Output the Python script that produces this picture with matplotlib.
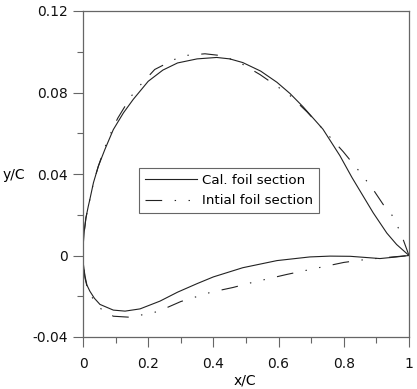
import matplotlib
matplotlib.use("Agg")
import matplotlib.pyplot as plt

plt.rcParams['lines.scale_dashes'] = False
plt.rcParams['font.family'] = ['DejaVu Sans']

# Calculated foil section (from leading edge to trailing edge)
cal_upper_x = [0, 0.001, 0.004, 0.009, 0.016, 0.021, 0.032, 0.047, 0.067, 0.093, 0.124, 0.154,
               0.2, 0.245, 0.29, 0.35, 0.41, 0.45, 0.49, 0.545, 0.595, 0.635, 0.675, 0.736,
               0.788, 0.825, 0.89, 0.932, 0.962, 1.0]
cal_upper_y = [0, 0.006, 0.012, 0.0185, 0.024, 0.0275, 0.0357, 0.0438, 0.052, 0.0618, 0.070, 0.0766,
               0.0855, 0.0910, 0.0945, 0.0965, 0.0972, 0.0965, 0.0947, 0.0905, 0.085, 0.0795, 0.073, 0.062,
               0.049, 0.0383, 0.021, 0.011, 0.0054, 0]
cal_lower_x = [0, 0.001, 0.006, 0.012, 0.021, 0.035, 0.052, 0.093, 0.129, 0.175, 0.236, 0.29,
               0.35, 0.40, 0.49, 0.595, 0.696, 0.758, 0.82, 0.87, 0.911, 0.962, 1.0]
cal_lower_y = [0, -0.004, -0.010, -0.0145, -0.0175, -0.021, -0.024, -0.0268, -0.0273, -0.0262, -0.0224, -0.018,
               -0.0138, -0.0105, -0.006, -0.0025, -0.0007, -0.0003, -0.0004, -0.001, -0.0015, -0.0007, 0]

# Initial foil section
ini_upper_x = [0, 0.001, 0.004, 0.009, 0.021, 0.032, 0.047, 0.067, 0.093, 0.107, 0.147, 0.175, 0.22,
               0.28, 0.316, 0.374, 0.43, 0.488, 0.543, 0.6, 0.635, 0.687, 0.733, 0.798, 0.844,
               0.89, 0.921, 0.947, 0.967, 0.982, 1.0]
ini_upper_y = [0, 0.006, 0.012, 0.0185, 0.0275, 0.0357, 0.0438, 0.053, 0.063, 0.0675, 0.078, 0.0835, 0.0913,
               0.0962, 0.0982, 0.099, 0.098, 0.094, 0.0888, 0.0825, 0.0785, 0.0705, 0.0625, 0.051, 0.042,
               0.0324, 0.025, 0.020, 0.0136, 0.0079, 0]
ini_lower_x = [0, 0.001, 0.006, 0.015, 0.032, 0.057, 0.093, 0.144, 0.185, 0.23, 0.3, 0.393, 0.46, 0.52,
               0.625, 0.696, 0.8, 0.865, 0.93, 1.0]
ini_lower_y = [0, -0.004, -0.011, -0.017, -0.0216, -0.0265, -0.0298, -0.0303, -0.029, -0.0275, -0.0226, -0.018,
               -0.0157, -0.0132, -0.0093, -0.0069, -0.0034, -0.002, -0.001, 0]

xticks = [0, 0.2, 0.4, 0.6, 0.8, 1.0]
xticklabels = ["0", "0.2", "0.4", "0.6", "0.8", "1"]
yticks = [-0.04, 0, 0.04, 0.08, 0.12]
yticklabels = ["-0.04", "0", "0.04", "0.08", "0.12"]

fig = plt.figure(figsize=(4.17, 3.89), dpi=100)
ax = fig.add_axes([83/417, 52/389, 326/417, 326/389])

lc = '#222222'
cal_x = cal_upper_x[::-1] + cal_lower_x[1:]
cal_y = cal_upper_y[::-1] + cal_lower_y[1:]
ini_x = ini_upper_x[::-1] + ini_lower_x[1:]
ini_y = ini_upper_y[::-1] + ini_lower_y[1:]

ax.plot(cal_x, cal_y, color=lc, lw=0.8, label='Cal. foil section')
ax.plot(ini_x, ini_y, color=lc, lw=0.8, linestyle=(0, (12, 9, 1, 9, 1, 9)),
        label='Intial foil section')

ax.set_xlim(0, 1)
ax.set_ylim(-0.04, 0.12)
ax.set_xticks(xticks)
ax.set_xticklabels(xticklabels)
ax.set_yticks(yticks)
ax.set_yticklabels(yticklabels)
ax.set_xticks([0.1, 0.3, 0.5, 0.7, 0.9], minor=True)
ax.set_yticks([-0.02, 0.02, 0.06, 0.10], minor=True)
sc = '#666666'
ax.tick_params(which='major', direction='out', length=7.2, width=0.8, color=sc,
               labelsize=10, labelcolor='#111111')
ax.tick_params(axis='y', which='major', pad=3.6)
ax.tick_params(axis='x', which='major', pad=7)
ax.tick_params(which='minor', direction='out', length=4, width=0.8, color=sc)
for s in ax.spines.values():
    s.set_color(sc)
    s.set_linewidth(0.9)

leg = ax.legend(loc='upper left', bbox_to_anchor=(0.172, 0.518), borderaxespad=0,
                fancybox=False, framealpha=1, edgecolor='#666666', fontsize=9.6,
                handlelength=3.9, handletextpad=0.4, borderpad=0.45, labelspacing=0.55)
leg.get_frame().set_linewidth(0.8)

fig.text(14/417, 1 - 175/389, 'y/C', ha='center', va='center', fontsize=10)
fig.text(245/417, 1 - 381/389, 'x/C', ha='center', va='center', fontsize=10)

fig.savefig('out.png', dpi=100)
